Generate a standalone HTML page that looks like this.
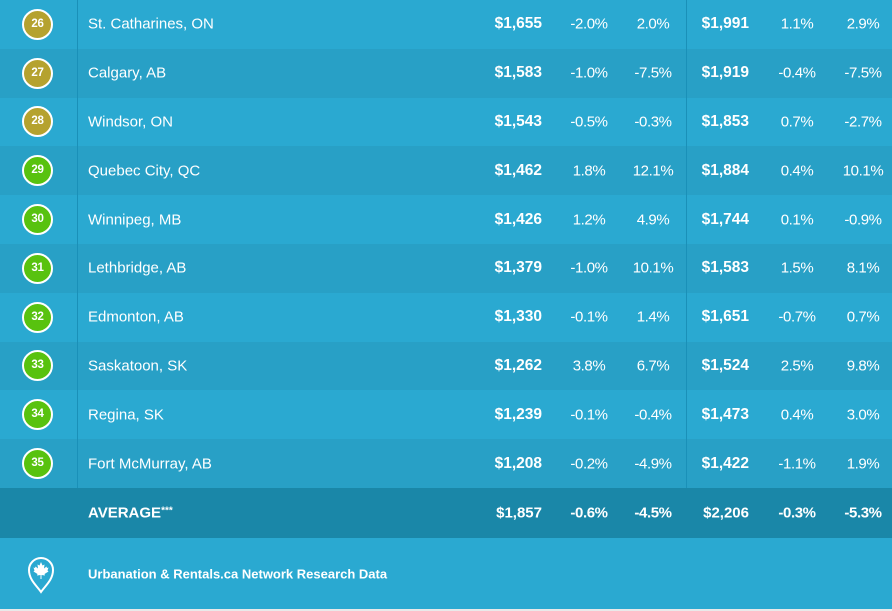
<!DOCTYPE html>
<html>
<head>
<meta charset="utf-8">
<style>
html,body{margin:0;padding:0;}
body{width:892px;height:611px;overflow:hidden;background:#e9e9e9;font-family:"Liberation Sans",sans-serif;color:#fff;position:relative;}
.row{position:absolute;left:0;width:892px;height:48.8px;}
.l{background:#2aa9d1;}
.d{background:#28a0c6;}
.c{position:absolute;top:50%;transform:translateY(-50%);white-space:nowrap;}
.circ{position:absolute;left:22px;top:50%;margin-top:-15.5px;width:27px;height:27px;border:2px solid #fff;border-radius:50%;font-weight:bold;font-size:11.5px;text-align:center;line-height:27px;letter-spacing:-0.3px;}
.g{background:#b5a22f;}
.gr{background:#58c20f;}
.name{left:88px;font-size:15px;}
.p1{right:350px;font-weight:bold;font-size:15.5px;}
.c2{left:589px;transform:translate(-50%,-50%);font-size:15px;letter-spacing:-0.4px;}
.c3{left:653px;transform:translate(-50%,-50%);font-size:15px;letter-spacing:-0.4px;}
.p2{right:143px;font-weight:bold;font-size:15.5px;}
.c5{left:797px;transform:translate(-50%,-50%);font-size:15px;letter-spacing:-0.4px;}
.c6{left:863px;transform:translate(-50%,-50%);font-size:15px;letter-spacing:-0.4px;}
.vl{position:absolute;top:0;width:1px;height:488px;background:#1a90b8;}
.avg{position:absolute;left:0;top:488px;width:892px;height:50px;background:#1a87a8;}
.avg .c{font-weight:bold;font-size:15px;}
.foot{position:absolute;left:0;top:538px;width:892px;height:71px;background:#2aa9d1;}
</style>
</head>
<body>
<div class="row l" style="top:0px"><div class="circ g">26</div><div class="c name">St. Catharines, ON</div><div class="c p1">$1,655</div><div class="c c2">-2.0%</div><div class="c c3">2.0%</div><div class="c p2">$1,991</div><div class="c c5">1.1%</div><div class="c c6">2.9%</div></div>
<div class="row d" style="top:48.8px"><div class="circ g">27</div><div class="c name">Calgary, AB</div><div class="c p1">$1,583</div><div class="c c2">-1.0%</div><div class="c c3">-7.5%</div><div class="c p2">$1,919</div><div class="c c5">-0.4%</div><div class="c c6">-7.5%</div></div>
<div class="row l" style="top:97.6px"><div class="circ g">28</div><div class="c name">Windsor, ON</div><div class="c p1">$1,543</div><div class="c c2">-0.5%</div><div class="c c3">-0.3%</div><div class="c p2">$1,853</div><div class="c c5">0.7%</div><div class="c c6">-2.7%</div></div>
<div class="row d" style="top:146.4px"><div class="circ gr">29</div><div class="c name">Quebec City, QC</div><div class="c p1">$1,462</div><div class="c c2">1.8%</div><div class="c c3">12.1%</div><div class="c p2">$1,884</div><div class="c c5">0.4%</div><div class="c c6">10.1%</div></div>
<div class="row l" style="top:195.2px"><div class="circ gr">30</div><div class="c name">Winnipeg, MB</div><div class="c p1">$1,426</div><div class="c c2">1.2%</div><div class="c c3">4.9%</div><div class="c p2">$1,744</div><div class="c c5">0.1%</div><div class="c c6">-0.9%</div></div>
<div class="row d" style="top:244px"><div class="circ gr">31</div><div class="c name">Lethbridge, AB</div><div class="c p1">$1,379</div><div class="c c2">-1.0%</div><div class="c c3">10.1%</div><div class="c p2">$1,583</div><div class="c c5">1.5%</div><div class="c c6">8.1%</div></div>
<div class="row l" style="top:292.8px"><div class="circ gr">32</div><div class="c name">Edmonton, AB</div><div class="c p1">$1,330</div><div class="c c2">-0.1%</div><div class="c c3">1.4%</div><div class="c p2">$1,651</div><div class="c c5">-0.7%</div><div class="c c6">0.7%</div></div>
<div class="row d" style="top:341.6px"><div class="circ gr">33</div><div class="c name">Saskatoon, SK</div><div class="c p1">$1,262</div><div class="c c2">3.8%</div><div class="c c3">6.7%</div><div class="c p2">$1,524</div><div class="c c5">2.5%</div><div class="c c6">9.8%</div></div>
<div class="row l" style="top:390.4px"><div class="circ gr">34</div><div class="c name">Regina, SK</div><div class="c p1">$1,239</div><div class="c c2">-0.1%</div><div class="c c3">-0.4%</div><div class="c p2">$1,473</div><div class="c c5">0.4%</div><div class="c c6">3.0%</div></div>
<div class="row d" style="top:439.2px"><div class="circ gr">35</div><div class="c name">Fort McMurray, AB</div><div class="c p1">$1,208</div><div class="c c2">-0.2%</div><div class="c c3">-4.9%</div><div class="c p2">$1,422</div><div class="c c5">-1.1%</div><div class="c c6">1.9%</div></div>
<div class="vl" style="left:77px"></div>
<div class="vl" style="left:686px"></div>
<div class="avg">
<div class="c name" style="font-weight:bold;">AVERAGE<span style="font-size:10px;vertical-align:4px;">***</span></div>
<div class="c p1">$1,857</div><div class="c c2">-0.6%</div><div class="c c3">-4.5%</div><div class="c p2">$2,206</div><div class="c c5">-0.3%</div><div class="c c6">-5.3%</div>
</div>
<div class="foot">
<svg style="position:absolute;left:27px;top:18px" width="28" height="38" viewBox="0 0 28 38">
<path d="M14 36 C10 30 2 24 2 14 A12 12 0 0 1 26 14 C26 24 18 30 14 36 Z" fill="none" stroke="#fff" stroke-width="2"/>
<path d="M14 6 L15.5 9.5 L17.5 8.5 L17 12.5 L19.5 10.5 L20 12 L21.5 11.5 L20.5 14.5 L21.5 15.5 L17.5 18 L18 19.5 L14.5 19 L14.5 23 L13.5 23 L13.5 19 L10 19.5 L10.5 18 L6.5 15.5 L7.5 14.5 L6.5 11.5 L8 12 L8.5 10.5 L11 12.5 L10.5 8.5 L12.5 9.5 Z" fill="#fff"/>
</svg>
<div style="position:absolute;left:88px;top:50%;transform:translateY(-50%);font-weight:bold;font-size:13px;">Urbanation &amp; Rentals.ca Network Research Data</div>
</div>
</body>
</html>
